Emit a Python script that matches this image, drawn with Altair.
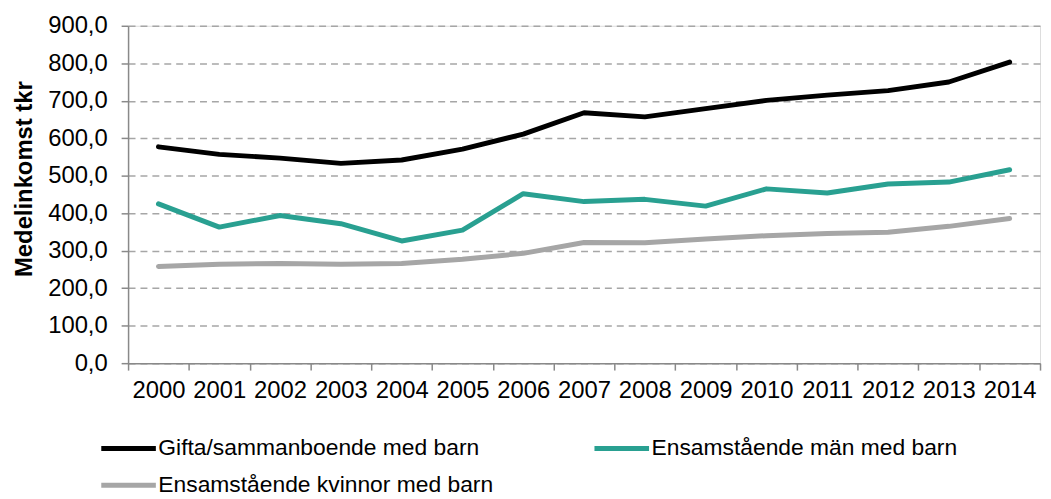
import altair as alt
import pandas as pd

years = ["2000", "2001", "2002", "2003", "2004", "2005", "2006", "2007",
         "2008", "2009", "2010", "2011", "2012", "2013", "2014"]
names = ["Gifta/sammanboende med barn", "Ensamstående män med barn",
         "Ensamstående kvinnor med barn"]
gifta = [577, 557, 547, 533, 542, 571, 611, 668, 657, 679, 701, 715, 727, 750, 803]
man = [425, 363, 394, 372, 326, 355, 452, 431, 437, 419, 465, 454, 478, 483, 516]
kvinnor = [258, 264, 266, 264, 266, 277, 293, 322, 321, 331, 340, 346, 349, 365, 386]
y_ticks = [0, 100, 200, 300, 400, 500, 600, 700, 800, 900]
colors = ["#000000", "#29A091", "#A6A6A6"]

df = pd.DataFrame({
    "year": years * 3,
    "value": gifta + man + kvinnor,
    "series": [names[0]] * len(years) + [names[1]] * len(years) + [names[2]] * len(years),
})

FONT = "Liberation Sans"
AXIS_C = "#898989"

chart = alt.Chart(df).mark_line(strokeWidth=5, strokeCap="round", strokeJoin="round").encode(
    x=alt.X("year:O", sort=years,
            scale=alt.Scale(type="band", paddingInner=0, paddingOuter=0),
            axis=alt.Axis(title=None, labelAngle=0, tickBand="extent", labelFontSize=24,
                          labelFont=FONT, labelColor="black", tickColor=AXIS_C,
                          domainColor=AXIS_C, tickSize=7, labelPadding=9, grid=False,
                          domainWidth=1.5, tickWidth=1.5)),
    y=alt.Y("value:Q", scale=alt.Scale(domain=[0, 900], nice=False),
            axis=alt.Axis(values=y_ticks,
                          labelExpr="replace(format(datum.value, '.1f'), '.', ',')",
                          title="Medelinkomst tkr", titleFont=FONT, titleFontWeight="bold",
                          titleFontSize=24, titleColor="black", titleX=-97, titleY=154,
                          titleBaseline="alphabetic", titleAlign="center", titleAngle=270,
                          labelFontSize=24, labelFont=FONT, labelColor="black",
                          labelPadding=14, tickSize=7, tickColor=AXIS_C, tickWidth=1.5,
                          domainColor=AXIS_C, domainWidth=1.5,
                          grid=True, gridDash=[7, 5], gridColor="#A6A6A6", gridWidth=1.5)),
    color=alt.Color("series:N", sort=names,
                    scale=alt.Scale(domain=names, range=colors),
                    legend=alt.Legend(title=None, orient="none", legendX=-29.5, legendY=412,
                                      columns=2, direction="horizontal",
                                      symbolType="stroke", symbolSize=3025,
                                      symbolStrokeWidth=5, clipHeight=28, rowPadding=9,
                                      columnPadding=99, labelFontSize=23, labelFont=FONT,
                                      labelColor="black", labelOffset=0, padding=0,
                                      labelLimit=0)),
).properties(
    width=919, height=340,
    autosize=alt.AutoSizeParams(type="none"),
    padding={"left": 121, "top": 16, "right": 3, "bottom": 140},
).configure_view(stroke=None).configure(font=FONT)

chart.save("out.html", embed_options={"renderer": "svg", "actions": False})
